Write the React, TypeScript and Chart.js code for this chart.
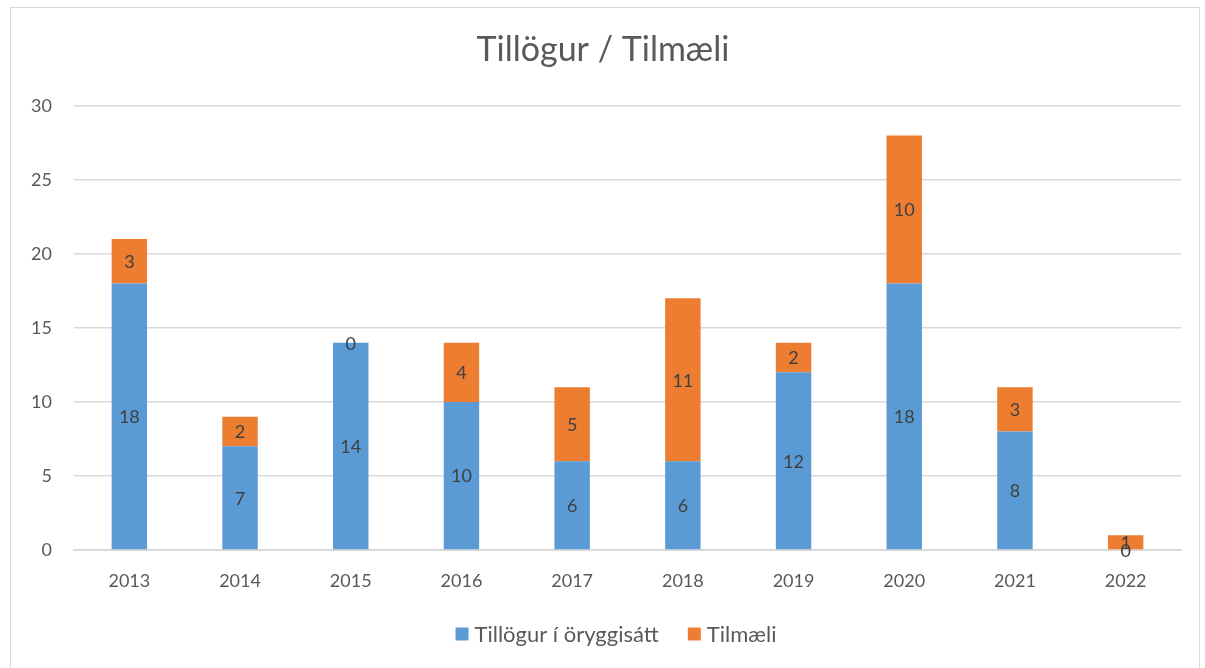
import React, { useEffect, useRef } from "react";
import { Chart, registerables } from "chart.js";

Chart.register(...registerables);

const categories = ["2013", "2014", "2015", "2016", "2017", "2018", "2019", "2020", "2021", "2022"];
const tillogur = [18, 7, 14, 10, 6, 6, 12, 18, 8, 0];
const tilmaeli = [3, 2, 0, 4, 5, 11, 2, 10, 3, 1];
const seriesNames = ["Tillögur í öryggisátt", "Tilmæli"];
const seriesColors = ["#5B9BD5", "#ED7D31"];
const titleText = "Tillögur / Tilmæli";

const FONT = "Lato, 'Liberation Sans', sans-serif";

const labelPlugin = {
  id: "segLabels",
  afterDatasetsDraw(chart: any) {
    const ctx = chart.ctx;
    ctx.save();
    ctx.font = `18px ${FONT}`;
    ctx.fillStyle = "#404040";
    ctx.textAlign = "center";
    ctx.textBaseline = "middle";
    chart.data.datasets.forEach((ds: any, di: number) => {
      const meta = chart.getDatasetMeta(di);
      meta.data.forEach((el: any, i: number) => {
        const v = ds.data[i];
        const { x, y, base } = el.getProps(["x", "y", "base"], true);
        ctx.fillText(String(v), x, (y + base) / 2 + 1);
      });
    });
    ctx.restore();
  },
};

// custom bottom legend
const legendPlugin = {
  id: "customLegend",
  afterDraw(chart: any) {
    const ctx = chart.ctx;
    ctx.save();
    ctx.font = `22px ${FONT}`;
    ctx.textBaseline = "middle";
    ctx.textAlign = "left";
    const box = 13, gap = 6, itemGap = 29;
    const items = chart.data.datasets.map((ds: any) => ({
      label: ds.label,
      color: ds.backgroundColor,
      w: ctx.measureText(ds.label).width,
    }));
    const total = items.reduce((s: number, it: any) => s + box + gap + it.w, 0) + itemGap * (items.length - 1);
    let x = chart.width / 2 - total / 2 + 11;
    const cy = chart.chartArea.bottom + 84;
    items.forEach((it: any) => {
      ctx.fillStyle = it.color;
      ctx.fillRect(x, cy - box / 2, box, box);
      x += box + gap;
      ctx.fillStyle = "#595959";
      ctx.fillText(it.label, x, cy + 1);
      x += it.w + itemGap;
    });
    ctx.restore();
  },
};

export default function App() {
  const ref = useRef<HTMLCanvasElement>(null);
  useEffect(() => {
    if (!ref.current) return;
    const chart = new Chart(ref.current, {
      type: "bar",
      data: {
        labels: categories,
        datasets: [
          { label: seriesNames[0], data: tillogur, backgroundColor: seriesColors[0], categoryPercentage: 0.32, barPercentage: 1 },
          { label: seriesNames[1], data: tilmaeli, backgroundColor: seriesColors[1], categoryPercentage: 0.32, barPercentage: 1 },
        ],
      },
      options: {
        responsive: false,
        animation: false,
        layout: { padding: { left: 14, right: 18, top: 0, bottom: 76 } },
        plugins: {
          title: {
            display: true,
            text: titleText,
            color: "#595959",
            font: { family: FONT, size: 34, weight: "normal" },
            padding: { top: 22, bottom: 35 },
          },
          legend: { display: false },
          tooltip: { enabled: false },
        },
        scales: {
          x: {
            stacked: true,
            afterFit: (s: any) => { s.height = 42; },
            grid: { display: false, drawTicks: false },
            border: { color: "#d9d9d9", width: 2 },
            ticks: { color: "#595959", font: { family: FONT, size: 18 }, padding: 20 },
          },
          y: {
            stacked: true,
            min: 0,
            max: 30,
            afterFit: (s: any) => { s.width = 49; },
            grid: { color: "#d9d9d9", lineWidth: 1.5, drawTicks: false },
            border: { display: false },
            ticks: { stepSize: 5, color: "#595959", font: { family: FONT, size: 18 }, padding: 22 },
          },
        },
      },
      plugins: [labelPlugin, legendPlugin],
    });
    return () => chart.destroy();
  }, []);
  return (
    <div style={{ position: "fixed", left: 10, top: 7, width: 1190, height: 670, border: "1px solid #d9d9d9", boxSizing: "border-box", background: "#fff" }}>
      <canvas ref={ref} width={1188} height={660} style={{ display: "block" }} />
    </div>
  );
}
